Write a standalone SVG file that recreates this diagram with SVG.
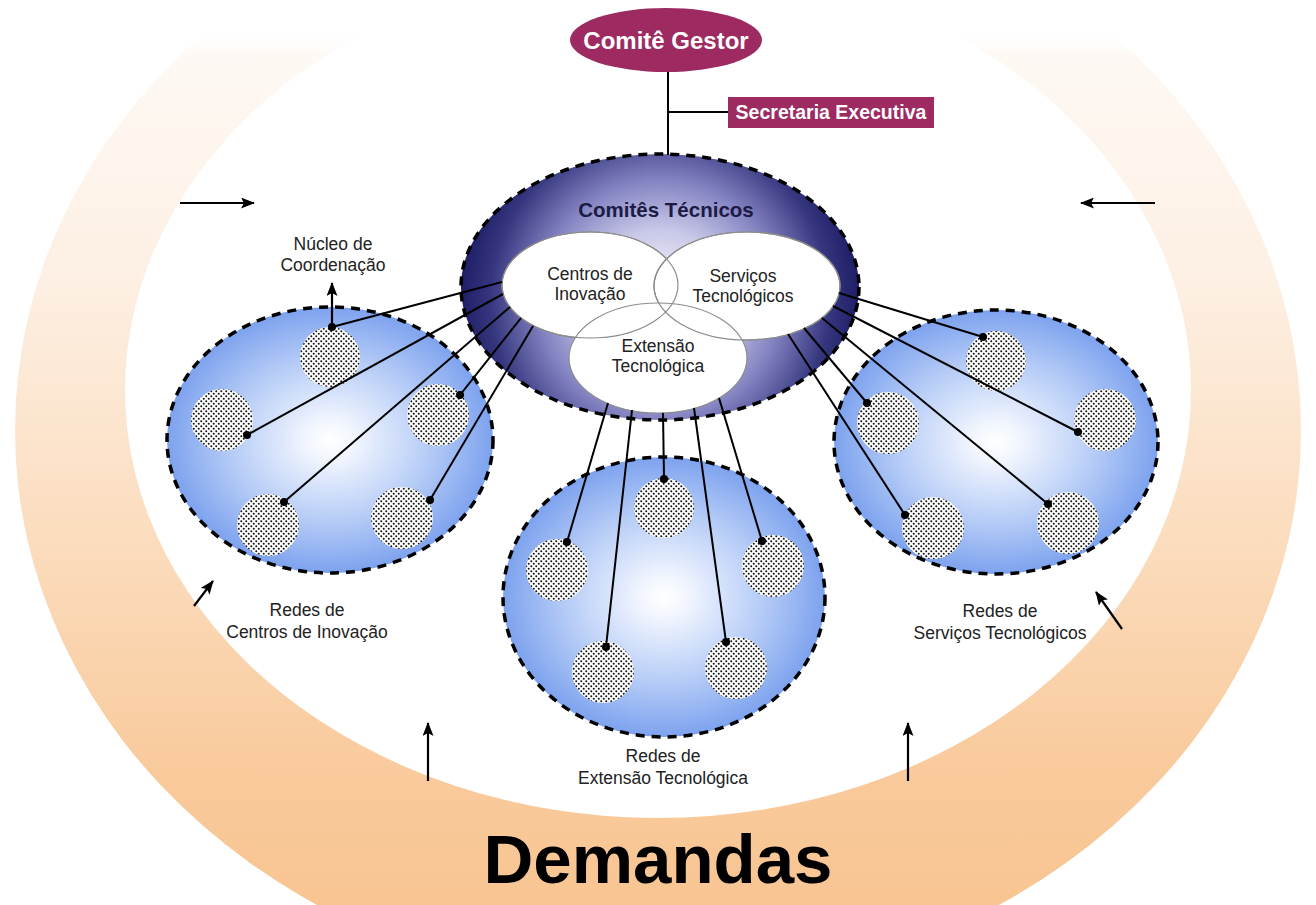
<svg xmlns="http://www.w3.org/2000/svg" width="1316" height="905" viewBox="0 0 1316 905">
<defs>
  <linearGradient id="bandGrad" gradientUnits="userSpaceOnUse" x1="0" y1="0" x2="0" y2="905">
    <stop offset="0" stop-color="#FFFFFF" stop-opacity="0"/>
    <stop offset="0.03" stop-color="#FFFFFF" stop-opacity="0"/>
    <stop offset="0.06" stop-color="#FEF9F4"/>
    <stop offset="0.3" stop-color="#FDF0E4"/>
    <stop offset="0.6" stop-color="#FBDCBD"/>
    <stop offset="0.85" stop-color="#F9CA9C"/>
    <stop offset="1" stop-color="#F8C592"/>
  </linearGradient>
  <radialGradient id="netGrad" cx="0.5" cy="0.5" r="0.5">
    <stop offset="0" stop-color="#FFFFFF"/>
    <stop offset="0.15" stop-color="#F1F5FE"/>
    <stop offset="0.6" stop-color="#B7CDF7"/>
    <stop offset="1" stop-color="#7DA2EE"/>
  </radialGradient>
  <radialGradient id="ctGrad" gradientUnits="userSpaceOnUse" cx="660" cy="300" r="200">
    <stop offset="0" stop-color="#FFFFFF"/>
    <stop offset="0.35" stop-color="#C8C8E8"/>
    <stop offset="0.6" stop-color="#8383C2"/>
    <stop offset="0.85" stop-color="#36367F"/>
    <stop offset="1" stop-color="#1E1E66"/>
  </radialGradient>
  <pattern id="dots" width="5" height="5" patternUnits="userSpaceOnUse">
    <rect width="5" height="5" fill="#FFFFFF"/>
    <circle cx="1.25" cy="1.25" r="1" fill="#111"/>
    <circle cx="3.75" cy="3.75" r="1" fill="#111"/>
  </pattern>
  <marker id="ah" markerWidth="14" markerHeight="11" refX="13" refY="5.5" orient="auto" markerUnits="userSpaceOnUse">
    <path d="M0,0 L14,5.5 L0,11 L3,5.5 Z" fill="#000"/>
  </marker>
  <style>
    .net { fill: url(#netGrad); stroke: #000; stroke-width: 3.5; stroke-dasharray: 9 7; }
    .sub { fill: url(#dots); }
    .venn { fill: #FFFFFF; stroke: #8C8C8C; stroke-width: 1.2; }
    .lbl { font-family: "Liberation Sans", Arial, sans-serif; font-size: 17.5px; fill: #222; text-anchor: middle; }
    .wlbl { font-family: "Liberation Sans", Arial, sans-serif; font-weight: bold; fill: #FFFFFF; text-anchor: middle; }
    .conn { stroke: #000; stroke-width: 2; fill: none; }
    .arr { stroke: #000; stroke-width: 2.2; fill: none; marker-end: url(#ah); }
    .dot { fill: #000; }
  </style>
</defs>

<rect width="1316" height="905" fill="#FFFFFF"/>

<g id="demandas">
  <path fill="url(#bandGrad)" fill-rule="evenodd" d="M15,430 A643,560 0 1 0 1301,430 A643,560 0 1 0 15,430 Z M125,390 A533,428 0 1 0 1191,390 A533,428 0 1 0 125,390 Z"/>
  <text x="658" y="883" font-family="'Liberation Sans', Arial, sans-serif" font-weight="bold" font-size="69" fill="#000" text-anchor="middle">Demandas</text>
</g>

<g id="rede-centros">
  <ellipse class="net" cx="330" cy="440" rx="163" ry="133"/>
  <circle class="sub" cx="330" cy="357" r="30"/>
  <circle class="sub" cx="222" cy="420" r="31"/>
  <circle class="sub" cx="438" cy="415" r="31"/>
  <circle class="sub" cx="268" cy="525" r="31"/>
  <circle class="sub" cx="402" cy="518" r="31"/>
  <text class="lbl" x="307" y="616">Redes de</text>
  <text class="lbl" x="307" y="638">Centros de Inovação</text>
</g>

<g id="rede-extensao">
  <ellipse class="net" cx="664" cy="597" rx="161" ry="140"/>
  <circle class="sub" cx="664" cy="508" r="30"/>
  <circle class="sub" cx="557" cy="570" r="31"/>
  <circle class="sub" cx="773" cy="566" r="31"/>
  <circle class="sub" cx="603" cy="672" r="31"/>
  <circle class="sub" cx="736" cy="668" r="31"/>
  <text class="lbl" x="663" y="762">Redes de</text>
  <text class="lbl" x="663" y="784">Extensão Tecnológica</text>
</g>

<g id="rede-servicos">
  <ellipse class="net" cx="996" cy="442" rx="162" ry="132"/>
  <circle class="sub" cx="996" cy="361" r="30"/>
  <circle class="sub" cx="1105" cy="420" r="31"/>
  <circle class="sub" cx="888" cy="423" r="31"/>
  <circle class="sub" cx="933" cy="528" r="31"/>
  <circle class="sub" cx="1068" cy="523" r="31"/>
  <text class="lbl" x="1000" y="617">Redes de</text>
  <text class="lbl" x="1000" y="639">Serviços Tecnológicos</text>
</g>

<g id="comites-tecnicos">
  <ellipse cx="660" cy="287" rx="199" ry="133" fill="url(#ctGrad)" stroke="#000" stroke-width="3.5" stroke-dasharray="9 7"/>
  <text x="666" y="217" font-family="'Liberation Sans', Arial, sans-serif" font-weight="bold" font-size="20.5" fill="#1B1B45" text-anchor="middle">Comitês Técnicos</text>
  <ellipse class="venn" cx="590" cy="285" rx="88" ry="53"/>
  <ellipse class="venn" cx="747" cy="286" rx="93" ry="54"/>
  <ellipse class="venn" cx="658" cy="358" rx="89" ry="55"/>
  <ellipse cx="590" cy="285" rx="88" ry="53" fill="none" stroke="#8C8C8C" stroke-width="1.2"/>
  <ellipse cx="747" cy="286" rx="93" ry="54" fill="none" stroke="#8C8C8C" stroke-width="1.2"/>
  <text class="lbl" x="590" y="280">Centros de</text>
  <text class="lbl" x="590" y="300">Inovação</text>
  <text class="lbl" x="743" y="282">Serviços</text>
  <text class="lbl" x="743" y="302">Tecnológicos</text>
  <text class="lbl" x="658" y="352">Extensão</text>
  <text class="lbl" x="658" y="372">Tecnológica</text>
</g>

<g id="comite-gestor">
  <ellipse cx="666" cy="40" rx="96" ry="32" fill="#9D2B62"/>
  <text class="wlbl" x="666" y="49" font-size="24">Comitê Gestor</text>
</g>

<g id="secretaria">
  <rect x="728" y="97" width="206" height="31" fill="#9D2B62"/>
  <text class="wlbl" x="831" y="119" font-size="19.5">Secretaria Executiva</text>
</g>

<g id="nucleo">
  <text class="lbl" x="333" y="250">Núcleo de</text>
  <text class="lbl" x="333" y="271">Coordenação</text>
</g>

<g id="connectors">
  <line class="conn" x1="668" y1="72" x2="668" y2="155"/>
  <line class="conn" x1="668" y1="112" x2="728" y2="112"/>
  <line class="conn" x1="502" y1="282" x2="332" y2="327"/>
  <line class="conn" x1="503" y1="294" x2="247" y2="435"/>
  <line class="conn" x1="510" y1="307" x2="284" y2="502"/>
  <line class="conn" x1="521" y1="318" x2="460" y2="395"/>
  <line class="conn" x1="533" y1="326" x2="430" y2="500"/>
  <line class="conn" x1="608" y1="403" x2="567" y2="542"/>
  <line class="conn" x1="632" y1="410" x2="606" y2="647"/>
  <line class="conn" x1="663" y1="413" x2="664" y2="479"/>
  <line class="conn" x1="694" y1="408" x2="726" y2="642"/>
  <line class="conn" x1="719" y1="398" x2="762" y2="541"/>
  <line class="conn" x1="839" y1="293" x2="983" y2="337"/>
  <line class="conn" x1="833" y1="306" x2="1078" y2="432"/>
  <line class="conn" x1="822" y1="318" x2="1048" y2="504"/>
  <line class="conn" x1="804" y1="328" x2="867" y2="403"/>
  <line class="conn" x1="788" y1="334" x2="905" y2="515"/>
  <circle class="dot" cx="332" cy="327" r="4"/>
  <circle class="dot" cx="247" cy="435" r="4"/>
  <circle class="dot" cx="284" cy="502" r="4"/>
  <circle class="dot" cx="460" cy="395" r="4"/>
  <circle class="dot" cx="430" cy="500" r="4"/>
  <circle class="dot" cx="567" cy="542" r="4"/>
  <circle class="dot" cx="606" cy="647" r="4"/>
  <circle class="dot" cx="664" cy="479" r="4"/>
  <circle class="dot" cx="726" cy="642" r="4"/>
  <circle class="dot" cx="762" cy="541" r="4"/>
  <circle class="dot" cx="983" cy="337" r="4"/>
  <circle class="dot" cx="1078" cy="432" r="4"/>
  <circle class="dot" cx="1048" cy="504" r="4"/>
  <circle class="dot" cx="867" cy="403" r="4"/>
  <circle class="dot" cx="905" cy="515" r="4"/>
  <line class="arr" x1="332" y1="327" x2="332" y2="283"/>
  <line class="arr" x1="180" y1="203" x2="254" y2="203"/>
  <line class="arr" x1="1155" y1="203" x2="1081" y2="203"/>
  <line class="arr" x1="194" y1="606" x2="213" y2="581"/>
  <line class="arr" x1="1122" y1="629" x2="1096" y2="592"/>
  <line class="arr" x1="428" y1="781" x2="428" y2="723"/>
  <line class="arr" x1="908" y1="781" x2="908" y2="723"/>
</g>
</svg>
